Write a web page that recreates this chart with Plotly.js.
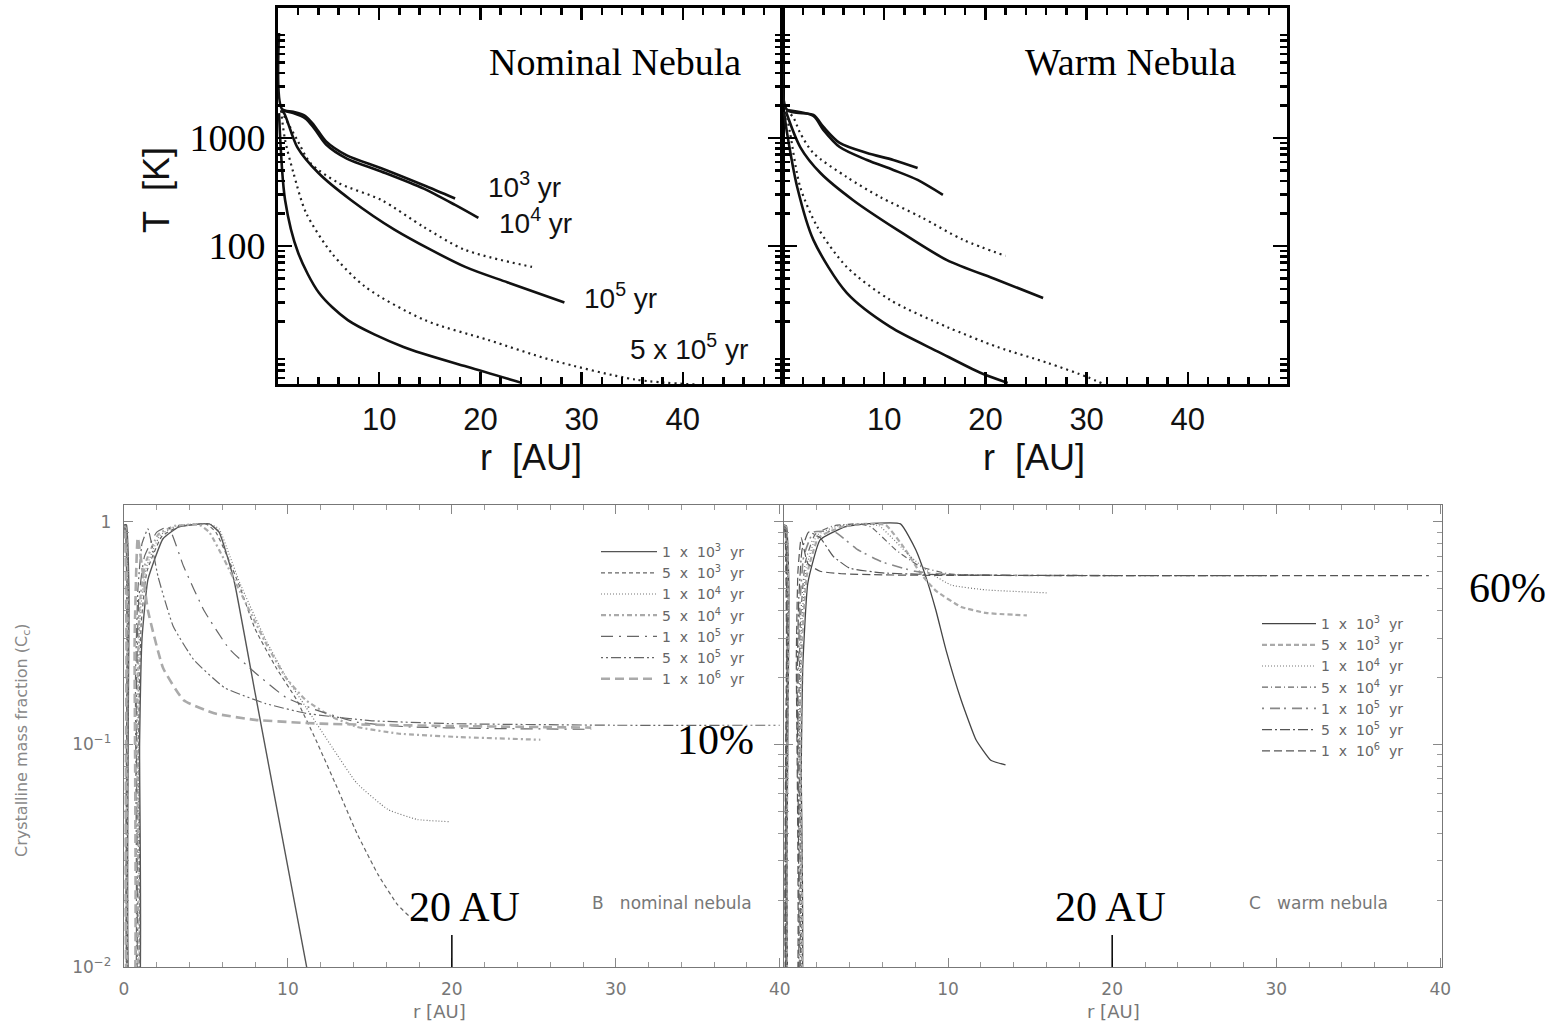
<!DOCTYPE html>
<html><head><meta charset="utf-8">
<script src="https://cdn.plot.ly/plotly-3.0.1.min.js"></script>
<style>html,body{margin:0;padding:0;background:#fff}#chart{width:1558px;height:1025px}</style>
</head><body><div id="chart"></div>
<script>
// ---------------- DATA ----------------
// Top panels: midplane temperature T [K] vs r [AU]
const topNom_r1e3 = [0.1, 0.4, 1.5, 2.7, 3.6, 4.75, 6.8, 10.2, 14.4, 17.5];
const topNom_T1e3 = [9400, 1850, 1750, 1600, 1300, 930, 690, 525, 365, 275];
const topNom_r1e4 = [0.4, 1.5, 2.7, 3.6, 4.75, 6.8, 10.2, 14.4, 17.5, 19.8];
const topNom_T1e4 = [1800, 1700, 1520, 1220, 870, 645, 490, 340, 240, 182];
const topNom_rDotU = [0.3, 1.9, 3.2, 6.0, 10.2, 14.4, 18.5, 25.1];
const topNom_TDotU = [1800, 960, 587, 383, 267, 150, 92, 64];
const topNom_r1e5 = [0.3, 0.6, 1.9, 4.0, 7.2, 11.5, 18.5, 22.7, 28.3];
const topNom_T1e5 = [1800, 1700, 825, 474, 267, 142, 64, 46, 30];
const topNom_rDotL = [0.3, 0.7, 1.53, 2.77, 5.3, 8.6, 14.5, 20.75, 27.0, 35.3, 41.5];
const topNom_TDotL = [1800, 960, 474, 203, 86, 42, 20.6, 13.5, 8.8, 5.8, 5.2];
const topNom_r5e5 = [0.1, 0.7, 2.0, 4.06, 6.9, 12.4, 18.7, 24.1];
const topNom_T5e5 = [1700, 267, 86, 36.7, 20.6, 11.6, 7.6, 5.4];

const topWarm_r1e3 = [0.0, 0.4, 3.0, 4.0, 5.6, 8.3, 10.9, 13.3];
const topWarm_T1e3 = [4900, 1820, 1634, 1265, 900, 726, 626, 527];
const topWarm_r1e4 = [0.4, 3.0, 4.0, 5.6, 8.3, 10.9, 13.3, 15.8];
const topWarm_T1e4 = [1820, 1600, 1185, 825, 626, 506, 409, 297];
const topWarm_rDotU = [0.3, 1.0, 1.7, 3.0, 6.3, 9.6, 13.6, 17.8, 22.0];
const topWarm_TDotU = [1800, 1565, 1112, 726, 435, 284, 186, 114, 81];
const topWarm_r1e5 = [0.3, 1.7, 3.7, 6.9, 11.3, 16.2, 21.2, 25.7];
const topWarm_T1e5 = [1750, 825, 474, 267, 141, 74, 48.5, 33];
const topWarm_rDotL = [0.3, 0.7, 1.7, 3.4, 6.3, 10.6, 16.2, 21.2, 26.1, 30.1, 31.6];
const topWarm_TDotL = [1750, 1112, 352, 150, 64, 31.6, 17.8, 11.6, 8.3, 6.1, 5.3];
const topWarm_r5e5 = [0.1, 0.4, 1.4, 3.0, 6.3, 10.6, 15.5, 19.5, 22.2];
const topWarm_T5e5 = [1750, 1112, 352, 114, 36.8, 17.8, 10.3, 6.7, 5.4];

const topLabels = ["10<sup>3</sup> yr", "10<sup>4</sup> yr", "10<sup>5</sup> yr", "5 x 10<sup>5</sup> yr"];

// Bottom panels: crystalline mass fraction C_c vs r [AU]
const timeLabels = ["1\u00a0\u00a0x\u00a0\u00a010<sup>3</sup>\u00a0\u00a0yr", "5\u00a0\u00a0x\u00a0\u00a010<sup>3</sup>\u00a0\u00a0yr",
                    "1\u00a0\u00a0x\u00a0\u00a010<sup>4</sup>\u00a0\u00a0yr", "5\u00a0\u00a0x\u00a0\u00a010<sup>4</sup>\u00a0\u00a0yr",
                    "1\u00a0\u00a0x\u00a0\u00a010<sup>5</sup>\u00a0\u00a0yr", "5\u00a0\u00a0x\u00a0\u00a010<sup>5</sup>\u00a0\u00a0yr",
                    "1\u00a0\u00a0x\u00a0\u00a010<sup>6</sup>\u00a0\u00a0yr"];

const nom_r_1e3 = [0, 0.15, 0.3, 0.42, 0.85, 0.95, 1.1, 1.46, 2.38, 3.35, 5.2, 5.8, 6.3, 6.75, 8.0, 9.5, 11.2];
const nom_c_1e3 = [0.97, 0.97, 0.5, 0.005, 0.005, 0.1, 0.3, 0.55, 0.84, 0.95, 0.98, 0.9, 0.7, 0.53, 0.17, 0.044, 0.0095];
const nom_r_5e3 = [0, 0.12, 0.28, 0.4, 0.8, 0.9, 1.05, 1.4, 2.3, 3.3, 5.0, 5.6, 6.3, 7.07, 8.0, 9.3, 10.5, 11.7, 13.0, 14.2, 15.5, 16.7, 17.6, 18.6];
const nom_c_5e3 = [0.96, 0.96, 0.45, 0.005, 0.005, 0.12, 0.35, 0.6, 0.86, 0.95, 0.98, 0.9, 0.7, 0.51, 0.33, 0.22, 0.16, 0.105, 0.064, 0.040, 0.026, 0.019, 0.0165, 0.016];
const nom_r_1e4 = [0, 0.1, 0.25, 0.38, 0.75, 0.85, 1.0, 1.35, 2.2, 3.2, 5.2, 5.8, 6.4, 7.07, 8.6, 9.9, 11.1, 12.7, 14.2, 16.1, 17.9, 19.8];
const nom_c_1e4 = [0.95, 0.95, 0.4, 0.005, 0.005, 0.14, 0.4, 0.62, 0.87, 0.96, 0.98, 0.93, 0.72, 0.53, 0.30, 0.20, 0.147, 0.097, 0.067, 0.051, 0.046, 0.045];
const nom_r_5e4 = [0, 0.1, 0.22, 0.35, 0.7, 0.8, 0.95, 1.3, 2.1, 3.1, 4.6, 5.2, 6.1, 7.06, 8.6, 9.86, 11.1, 12.7, 14.2, 16.7, 20.4, 25.4];
const nom_c_5e4 = [0.95, 0.94, 0.4, 0.005, 0.005, 0.15, 0.42, 0.65, 0.88, 0.96, 0.97, 0.9, 0.68, 0.49, 0.29, 0.20, 0.158, 0.133, 0.12, 0.112, 0.108, 0.105];
const nom_r_1e5 = [0, 0.1, 0.2, 0.32, 0.65, 0.75, 0.9, 1.25, 2.0, 2.7, 3.64, 4.88, 6.4, 8.0, 9.86, 11.7, 14.2, 17.3, 22, 28.5];
const nom_c_1e5 = [0.94, 0.93, 0.35, 0.005, 0.005, 0.16, 0.45, 0.7, 0.9, 0.95, 0.63, 0.40, 0.27, 0.21, 0.163, 0.143, 0.126, 0.12, 0.118, 0.117];
const nom_r_5e5 = [0, 0.08, 0.18, 0.3, 0.6, 0.7, 0.85, 1.1, 1.46, 2.08, 3.0, 4.26, 6.13, 8.6, 11.1, 15, 20, 30, 40];
const nom_c_5e5 = [0.93, 0.92, 0.3, 0.005, 0.005, 0.2, 0.5, 0.8, 0.93, 0.566, 0.34, 0.24, 0.18, 0.153, 0.138, 0.128, 0.124, 0.122, 0.122];
const nom_r_1e6 = [0, 0.06, 0.15, 0.28, 0.55, 0.65, 0.84, 1.46, 2.39, 3.64, 5.5, 8.0, 12, 20, 28.5];
const nom_c_1e6 = [0.92, 0.9, 0.3, 0.005, 0.005, 0.3, 0.85, 0.40, 0.22, 0.158, 0.138, 0.129, 0.124, 0.121, 0.119];

const warm_r_1e3 = [0, 0.15, 0.3, 0.4, 0.98, 1.05, 1.14, 1.45, 2.2, 3.7, 5, 7.1, 8.03, 8.65, 9.26, 9.87, 10.8, 11.7, 12.6, 13.5];
const warm_c_1e3 = [0.97, 0.96, 0.5, 0.005, 0.005, 0.08, 0.22, 0.53, 0.83, 0.95, 0.98, 0.98, 0.75, 0.565, 0.40, 0.266, 0.158, 0.105, 0.085, 0.081];
const warm_r_5e3 = [0, 0.12, 0.28, 0.38, 0.93, 1.0, 1.1, 1.4, 2.1, 3.5, 5, 6.2, 7.4, 8.3, 9.26, 10.8, 12.3, 14.8];
const warm_c_5e3 = [0.96, 0.95, 0.45, 0.005, 0.005, 0.1, 0.28, 0.58, 0.85, 0.95, 0.98, 0.97, 0.75, 0.59, 0.49, 0.415, 0.39, 0.38];
const warm_r_1e4 = [0, 0.1, 0.25, 0.36, 0.88, 0.95, 1.05, 1.35, 2.0, 3.3, 5.0, 5.8, 7.7, 8.9, 10.2, 12.3, 16.0];
const warm_c_1e4 = [0.95, 0.95, 0.4, 0.005, 0.005, 0.12, 0.32, 0.62, 0.87, 0.96, 0.98, 0.96, 0.70, 0.59, 0.52, 0.495, 0.48];
const warm_r_5e4 = [0, 0.1, 0.22, 0.33, 0.83, 0.9, 1.0, 1.3, 1.9, 3.0, 4.5, 5.3, 6.8, 8.3, 10, 12];
const warm_c_5e4 = [0.95, 0.94, 0.4, 0.005, 0.005, 0.14, 0.36, 0.66, 0.88, 0.96, 0.98, 0.95, 0.75, 0.63, 0.585, 0.575];
const warm_r_1e5 = [0, 0.1, 0.2, 0.3, 0.78, 0.85, 0.95, 1.2, 1.8, 3.1, 4.5, 6, 8, 10, 14, 20];
const warm_c_1e5 = [0.94, 0.93, 0.35, 0.005, 0.005, 0.15, 0.4, 0.7, 0.9, 0.9, 0.75, 0.66, 0.6, 0.58, 0.575, 0.574];
const warm_r_5e5 = [0, 0.08, 0.18, 0.28, 0.73, 0.8, 0.9, 1.1, 1.5, 2.2, 3, 4, 6, 10, 20, 30];
const warm_c_5e5 = [0.93, 0.92, 0.3, 0.005, 0.005, 0.2, 0.45, 0.75, 0.9, 0.85, 0.7, 0.62, 0.59, 0.578, 0.574, 0.574];
const warm_r_1e6 = [0, 0.06, 0.15, 0.25, 0.68, 0.75, 0.85, 1.05, 1.45, 2.2, 3.5, 6, 10, 20, 39.3];
const warm_c_1e6 = [0.92, 0.9, 0.3, 0.005, 0.005, 0.25, 0.6, 0.85, 0.65, 0.6, 0.585, 0.578, 0.575, 0.574, 0.574];

const topXTicks = [0, 10, 20, 30, 40];
const topXTickText = ["", "10", "20", "30", "40"];
const topYTicks = [100, 1000];
const topYTickText = ["100", "1000"];
const botXTicks = [0, 10, 20, 30, 40];
const botXTickTextL = ["0", "10", "20", "30", "40"];
const botXTickTextR = ["", "10", "20", "30", "40"];
const botYTicks = [0.01, 0.1, 1];
const botYTickText = ["10<sup>\u22122</sup>", "10<sup>\u22121</sup>", "1"];
const markR = 20;      // "20 AU" marker
const markLabels = ["20 AU", "10%", "60%"];

// ---------------- HELPERS (layout only) ----------------
const W = 1558, H = 1025;
const PX = x => x / W, PY = y => 1 - y / H;
function range(a, b, s) { const o = []; for (let v = a; v <= b + 1e-9; v += s) o.push(+v.toFixed(6)); return o; }
function logMinors(d0, d1) { const o = []; for (let d = d0; d <= d1; d++) for (let m = 2; m <= 9; m++) o.push(m * Math.pow(10, d)); return o; }

function tr(x, y, xa, ya, opts) {
  return Object.assign({ type: 'scatter', mode: 'lines', x: x, y: y, xaxis: xa, yaxis: ya,
    hoverinfo: 'x+y+name' }, opts);
}

const traces = [];
const topStyle = {
  solid: { color: '#111', width: 2.6, shape: 'spline', smoothing: 0.8 },
  dot:   { color: '#222', width: 2.2, dash: '2px,4px', shape: 'spline', smoothing: 0.8 }
};
// top nominal
traces.push(tr(topNom_r1e3, topNom_T1e3, 'x', 'y', { name: '10^3 yr', showlegend: false, line: topStyle.solid }));
traces.push(tr(topNom_r1e4, topNom_T1e4, 'x', 'y', { name: '10^4 yr', showlegend: false, line: topStyle.solid }));
traces.push(tr(topNom_rDotU, topNom_TDotU, 'x', 'y', { name: 'dotted (upper)', showlegend: false, line: topStyle.dot }));
traces.push(tr(topNom_r1e5, topNom_T1e5, 'x', 'y', { name: '10^5 yr', showlegend: false, line: topStyle.solid }));
traces.push(tr(topNom_rDotL, topNom_TDotL, 'x', 'y', { name: 'dotted (lower)', showlegend: false, line: topStyle.dot }));
traces.push(tr(topNom_r5e5, topNom_T5e5, 'x', 'y', { name: '5x10^5 yr', showlegend: false, line: topStyle.solid }));
// top warm
traces.push(tr(topWarm_r1e3, topWarm_T1e3, 'x2', 'y2', { name: '10^3 yr', showlegend: false, line: topStyle.solid }));
traces.push(tr(topWarm_r1e4, topWarm_T1e4, 'x2', 'y2', { name: '10^4 yr', showlegend: false, line: topStyle.solid }));
traces.push(tr(topWarm_rDotU, topWarm_TDotU, 'x2', 'y2', { name: 'dotted (upper)', showlegend: false, line: topStyle.dot }));
traces.push(tr(topWarm_r1e5, topWarm_T1e5, 'x2', 'y2', { name: '10^5 yr', showlegend: false, line: topStyle.solid }));
traces.push(tr(topWarm_rDotL, topWarm_TDotL, 'x2', 'y2', { name: 'dotted (lower)', showlegend: false, line: topStyle.dot }));
traces.push(tr(topWarm_r5e5, topWarm_T5e5, 'x2', 'y2', { name: '5x10^5 yr', showlegend: false, line: topStyle.solid }));

// bottom
const nomStyles = [
  { color: '#555', width: 1.4 },
  { color: '#666', width: 1.2, dash: '4px,3px' },
  { color: '#777', width: 1.2, dash: '1px,2px' },
  { color: '#aaa', width: 2.2, dash: '5px,3px,2px,3px' },
  { color: '#666', width: 1.2, dash: '12px,6px,2px,6px' },
  { color: '#666', width: 1.2, dash: '2px,3px,2px,3px,10px,3px' },
  { color: '#aaa', width: 2.6, dash: '9px,5px' }
];
const warmStyles = [
  { color: '#444', width: 1.3 },
  { color: '#aaa', width: 2.2, dash: '5px,3px' },
  { color: '#777', width: 1.2, dash: '1px,2px' },
  { color: '#666', width: 1.2, dash: '6px,3px,1px,3px' },
  { color: '#888', width: 1.6, dash: '2px,6px,10px,4px' },
  { color: '#555', width: 1.2, dash: '10px,3px,2px,3px' },
  { color: '#555', width: 1.2, dash: '8px,4px' }
];
const nomR = [nom_r_1e3, nom_r_5e3, nom_r_1e4, nom_r_5e4, nom_r_1e5, nom_r_5e5, nom_r_1e6];
const nomC = [nom_c_1e3, nom_c_5e3, nom_c_1e4, nom_c_5e4, nom_c_1e5, nom_c_5e5, nom_c_1e6];
const warmR = [warm_r_1e3, warm_r_5e3, warm_r_1e4, warm_r_5e4, warm_r_1e5, warm_r_5e5, warm_r_1e6];
const warmC = [warm_c_1e3, warm_c_5e3, warm_c_1e4, warm_c_5e4, warm_c_1e5, warm_c_5e5, warm_c_1e6];
for (let i = 0; i < 7; i++) {
  traces.push(tr(nomR[i], nomC[i], 'x3', 'y3', { name: timeLabels[i], legend: 'legend',
    line: Object.assign({ shape: 'spline', smoothing: 0.4 }, nomStyles[i]) }));
}
for (let i = 0; i < 7; i++) {
  traces.push(tr(warmR[i], warmC[i], 'x4', 'y4', { name: timeLabels[i], legend: 'legend2',
    line: Object.assign({ shape: 'spline', smoothing: 0.4 }, warmStyles[i]) }));
}

// ---------------- AXES ----------------
function topX(dom) {
  return { domain: dom, range: [0, 49.8], showline: true, linewidth: 3, linecolor: '#000', mirror: 'allticks',
    ticks: 'inside', ticklen: 12, tickwidth: 2.5, tickcolor: '#000', tickmode: 'array', tickvals: topXTicks, ticktext: topXTickText,
    minor: { ticks: 'inside', ticklen: 7, tickwidth: 2.5, tickcolor: '#000', tickmode: 'array', tickvals: range(2, 48, 2).filter(v => v % 10) },
    tickfont: { family: 'Liberation Sans', size: 31, color: '#111' }, ticklabelstandoff: 6,
    showgrid: false, zeroline: false };
}
function topY(dom, labels) {
  return { domain: dom, type: 'log', range: [0.722, 4.204], showline: true, linewidth: 3, linecolor: '#000', mirror: 'allticks',
    ticks: 'inside', ticklen: 14, tickwidth: 2.5, tickcolor: '#000', tickmode: 'array', tickvals: topYTicks, ticktext: topYTickText,
    showticklabels: labels,
    minor: { ticks: 'inside', ticklen: 7, tickwidth: 2.5, tickcolor: '#000', tickmode: 'array', tickvals: logMinors(0, 4) },
    tickfont: { family: 'Liberation Serif', size: 38, color: '#000' }, ticklabelstandoff: 2,
    showgrid: false, zeroline: false };
}
function botX(dom, rng, txt) {
  return { domain: dom, range: rng, showline: true, linewidth: 1.3, linecolor: '#777', mirror: 'allticks',
    ticks: 'inside', ticklen: 9, tickwidth: 1, tickcolor: '#888', tickmode: 'array', tickvals: botXTicks, ticktext: txt,
    minor: { ticks: 'inside', ticklen: 5, tickwidth: 1, tickcolor: '#999', tickmode: 'array', tickvals: range(2, 38, 2).filter(v => v % 10) },
    tickfont: { family: 'DejaVu Sans', size: 17, color: '#777' }, ticklabelstandoff: 6,
    showgrid: false, zeroline: false };
}
function botY(dom, labels) {
  return { domain: dom, type: 'log', range: [-2, 0.076], showline: true, linewidth: 1.3, linecolor: '#777', mirror: 'allticks',
    ticks: 'inside', ticklen: 9, tickwidth: 1, tickcolor: '#888', tickmode: 'array', tickvals: botYTicks, ticktext: botYTickText,
    showticklabels: labels,
    minor: { ticks: 'inside', ticklen: 5, tickwidth: 1, tickcolor: '#999', tickmode: 'array', tickvals: logMinors(-2, -1) },
    tickfont: { family: 'DejaVu Sans', size: 17, color: '#777' }, ticklabelstandoff: 8,
    showgrid: false, zeroline: false };
}

const topYdom = [PY(384), PY(8)];
const botYdom = [PY(967), PY(505)];

const legFont = { family: 'DejaVu Sans', size: 14, color: '#666' };
const layout = {
  width: W, height: H, margin: { l: 0, r: 0, t: 0, b: 0 },
  paper_bgcolor: '#fff', plot_bgcolor: 'rgba(0,0,0,0)',
  xaxis: Object.assign(topX([PX(278), PX(782)]), { anchor: 'y' }),
  yaxis: Object.assign(topY(topYdom, true), { anchor: 'x' }),
  xaxis2: Object.assign(topX([PX(783), PX(1287)]), { anchor: 'y2' }),
  yaxis2: Object.assign(topY(topYdom, false), { anchor: 'x2' }),
  xaxis3: Object.assign(botX([PX(124), PX(783)], [0, 40.2], botXTickTextL), { anchor: 'y3' }),
  yaxis3: Object.assign(botY(botYdom, true), { anchor: 'x3' }),
  xaxis4: Object.assign(botX([PX(784), PX(1442)], [0, 40.1], botXTickTextR), { anchor: 'y4' }),
  yaxis4: Object.assign(botY(botYdom, false), { anchor: 'x4' }),
  showlegend: true,
  legend: { x: PX(596), y: PY(536), xanchor: 'left', yanchor: 'top', bgcolor: 'rgba(0,0,0,0)', borderwidth: 0,
    font: legFont, tracegroupgap: 0, itemwidth: 56 },
  legend2: { x: PX(1257), y: PY(608), xanchor: 'left', yanchor: 'top', bgcolor: 'rgba(0,0,0,0)', borderwidth: 0,
    font: legFont, tracegroupgap: 0, itemwidth: 54 },
  annotations: [],
  shapes: []
};

function ann(text, x, y, font, extra) {
  layout.annotations.push(Object.assign({ text: text, xref: 'paper', yref: 'paper', x: PX(x), y: PY(y),
    xanchor: 'center', yanchor: 'middle', showarrow: false, font: font }, extra || {}));
}
const serif = (s) => ({ family: 'Liberation Serif', size: s, color: '#000' });
const sans = (s, c) => ({ family: 'Liberation Sans', size: s, color: c || '#111' });
const dv = (s, c) => ({ family: 'DejaVu Sans', size: s, color: c || '#777' });

ann('Nominal Nebula', 615, 62, serif(38));
ann('Warm Nebula', 1130, 62, serif(38));
ann(topLabels[0], 524, 185, sans(28));
ann(topLabels[1], 535, 221, sans(28));
ann(topLabels[2], 620, 296, sans(28));
ann(topLabels[3], 689, 347, sans(28));
ann('T\u00a0\u00a0[K]', 157, 190, sans(36), { textangle: -90 });
ann('r\u00a0\u00a0[AU]', 531, 458, sans(36));
ann('r\u00a0\u00a0[AU]', 1034, 458, sans(36));

ann(markLabels[1], 715, 740, serif(42));
ann(markLabels[2], 1507, 588, serif(42));
ann(markLabels[0], 464, 907, serif(42));
ann(markLabels[0], 1110, 907, serif(42));
ann('B\u00a0\u00a0\u00a0nominal\u00a0nebula', 672, 903, dv(17));
ann('C\u00a0\u00a0\u00a0warm\u00a0nebula', 1318, 903, dv(17));
ann('Crystalline mass fraction (C<sub>c</sub>)', 22, 740, dv(16, '#888'), { textangle: -90 });
ann('r [AU]', 440, 1011, dv(18));
ann('r [AU]', 1113, 1011, dv(18));

layout.shapes.push({ type: 'line', xref: 'x3', yref: 'paper', x0: markR, x1: markR, y0: PY(967), y1: PY(935), line: { color: '#000', width: 1.5 } });
layout.shapes.push({ type: 'line', xref: 'x4', yref: 'paper', x0: markR, x1: markR, y0: PY(967), y1: PY(935), line: { color: '#000', width: 1.5 } });

Plotly.newPlot('chart', traces, layout, { staticPlot: true, displayModeBar: false });
</script></body></html>
